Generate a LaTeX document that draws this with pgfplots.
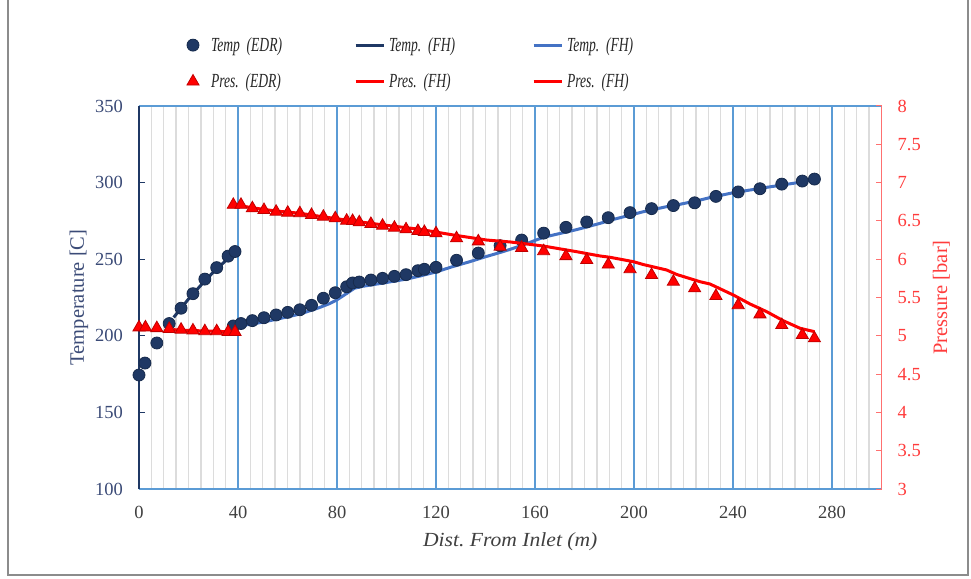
\documentclass[border=0pt]{standalone}
\usepackage{fontspec}
\setmainfont{Liberation Serif}
\newfontfamily\legendfont[FakeStretch=0.68]{Liberation Serif}
\newfontfamily\widefont[FakeStretch=1.08]{Liberation Serif}
\usepackage{pgfplots}
\pgfplotsset{compat=1.18}

\definecolor{tempnavy}{HTML}{1F3864}
\definecolor{tempedge}{HTML}{172B4D}
\definecolor{templight}{HTML}{4472C4}
\definecolor{presred}{HTML}{FF0000}
\definecolor{presedge}{HTML}{C00000}
\definecolor{gridblue}{HTML}{5B9BD5}
\definecolor{gridgray}{HTML}{DCDCDC}
\definecolor{labnavy}{HTML}{3B4B77}
\definecolor{labred}{HTML}{FF3C3C}
\definecolor{axred}{HTML}{FF7070}
\definecolor{txtgray}{HTML}{404040}
\definecolor{framegray}{HTML}{8C8C8C}

\pgfplotsset{
  longline legend/.style={legend image code/.code={\draw[##1] (0pt,0pt) -- (28pt,0pt);}},
  mark legend/.style={legend image code/.code={%
      \path[draw=none, fill=none] (0pt,0pt) -- (28pt,0pt);
      \path[##1, draw=none] plot coordinates {(14pt,0pt)};}},
}

\begin{document}
\frenchspacing
\begin{tikzpicture}[x=1pt,y=1pt]
\useasboundingbox (-139,-89) rectangle (832,489);
\draw[framegray, line width=1.5pt] (-131,489) -- (-131,-86) -- (829,-86) -- (829,489);

% temperature axis (left)
\begin{axis}[
  at={(0,0)}, anchor=south west, scale only axis,
  width=742.5pt, height=383pt,
  xmin=0, xmax=300, ymin=100, ymax=350,
  separate axis lines,
  axis x line*=box, axis y line*=left,
  x axis line style={gridblue, line width=1.2pt, -},
  y axis line style={tempnavy, line width=1.2pt, -},
  xtick={0,40,...,280}, minor xtick={5,10,...,295},
  ytick={100,150,...,350},
  xmajorgrids, xminorgrids,
  major grid style={gridblue, line width=1.1pt},
  minor grid style={gridgray, line width=1.3pt},
  tick align=inside, major tick length=6pt,
  major x tick style={draw=none}, minor x tick style={draw=none},
  ytick style={tempnavy, line width=1pt},
  /pgf/number format/assume math mode=true,
  xticklabel style={txtgray, font=\fontsize{18.5}{20}\selectfont, inner sep=0pt, yshift=-17pt},
  yticklabel style={labnavy, font=\fontsize{18.5}{20}\selectfont, inner sep=0pt, xshift=-16pt},
  xlabel={\widefont\itshape\frenchspacing Dist. From Inlet (m)},
  xlabel style={txtgray, font=\fontsize{20}{22}\selectfont, at={(axis description cs:0.5,-0.138)}, anchor=center},
  ylabel={Temperature [C]},
  ylabel style={labnavy, font=\fontsize{20.5}{22}\selectfont, at={(axis description cs:-0.0808,0.5)}, anchor=center},
]
% FH model, first pass
\addplot[tempnavy, line width=3pt, forget plot] coordinates {
  (14,212) (20,224) (25,233) (30,241.5) (35,249) (39,255)};
% FH model, second pass
\addplot[templight, line width=3pt, forget plot] coordinates {
  (40,206.5) (46,207.7) (55.6,210.8) (65,214.2) (73,218.5) (77,221) (80,223.5)
  (84,227.7) (87,231) (90,232.2) (100,234.8) (108,237) (113.5,239) (120.3,241.8)
  (126,244.8) (133.7,248.4) (140,251.6) (147.2,255) (154,258.6) (163.4,264.3)
  (176.8,269.3) (186.3,273.4) (190.3,275.4) (199.7,279.3) (203.8,281) (213.2,284.3)
  (217.3,285.4) (226.7,288.6) (230.7,290.2) (240.1,293.4) (253.6,296.9)
  (267.1,300.2) (272.9,302.2)};
% EDR temperatures
\addplot[only marks, mark=*, mark size=6pt, mark options={fill=tempnavy, draw=tempedge, line width=0.8pt}, forget plot] coordinates {
  (0,174.4) (2.4,182.2) (7.2,195.3) (12.2,208) (17,218) (21.8,227.5) (26.6,237)
  (31.4,244.5) (36,252) (38.8,255)
  (38.1,206.4) (41.2,208) (45.8,209.9) (50.5,211.8) (55.4,213.6) (60.1,215.3)
  (65,217) (69.7,219.9) (74.5,224.5) (79.3,228.1) (83.9,232) (86.3,234.5)
  (89,235.1) (93.7,236.4) (98.4,237.5) (103.2,238.8) (107.9,239.9) (112.7,242.5)
  (115.3,243.4) (120,244.7) (128.3,249.3) (137.1,254) (145.9,258.8) (154.6,262.5)
  (163.5,267) (172.5,270.8) (180.9,274.3) (189.6,277.1) (198.4,280.4) (207.1,283)
  (215.9,285) (224.5,286.8) (233.1,291) (242.1,293.9) (250.9,296) (259.7,299)
  (268,301) (272.9,302.3)};
\end{axis}

% pressure axis (right)
\begin{axis}[
  at={(0,0)}, anchor=south west, scale only axis,
  width=742.5pt, height=383pt,
  xmin=0, xmax=300, ymin=3, ymax=8,
  axis x line=none, axis y line*=right,
  y axis line style={axred, line width=1.2pt, -},
  ytick={3,3.5,...,8},
  tick align=inside, major tick length=6pt,
  ytick style={axred, line width=1pt},
  /pgf/number format/assume math mode=true,
  yticklabel style={labred, font=\fontsize{18.5}{20}\selectfont, inner sep=0pt, anchor=west, xshift=16pt},
  ylabel={Pressure [bar]},
  ylabel style={labred, font=\fontsize{20.5}{22}\selectfont, at={(axis description cs:1.0808,0.5)}, anchor=center},
  legend columns=3,
  legend cell align=left,
  legend style={draw=none, fill=none, inner sep=0pt, outer sep=0pt,
    at={(axis description cs:0.0539,1.1790)}, anchor=north west,
    font=\fontsize{20}{22}\selectfont\legendfont\itshape\frenchspacing,
    text=black!85, row sep=21pt,
    nodes={inner sep=0pt},
    /tikz/every odd column/.append style={column sep=4pt},
    /tikz/every even column/.append style={column sep=23pt, text width=120pt, align=left}},
]
\addlegendimage{only marks, mark=*, mark size=6pt, mark options={fill=tempnavy, draw=tempedge, line width=0.8pt}, mark legend}
\addlegendentry{Temp (EDR)}
\addlegendimage{tempnavy, line width=3pt, longline legend}
\addlegendentry{Temp. (FH)}
\addlegendimage{templight, line width=3pt, longline legend}
\addlegendentry{Temp. (FH)}
\addlegendimage{only marks, mark=triangle*, mark size=7pt, mark options={fill=presred, draw=presedge, line width=0.8pt}, mark legend}
\addlegendentry{Pres. (EDR)}
\addlegendimage{presred, line width=3pt, longline legend}
\addlegendentry{Pres. (FH)}
\addlegendimage{presred, line width=3pt, longline legend}
\addlegendentry{Pres. (FH)}

% FH model pressures
\addplot[presred, line width=3pt, forget plot] coordinates {
  (14,5.08) (20,5.07) (30,5.06) (39,5.05)};
\addplot[presred, line width=3pt, forget plot] coordinates {
  (39,6.71) (45,6.675) (55,6.63) (65,6.60) (72,6.565) (85.5,6.503) (99,6.446)
  (113.5,6.39) (127,6.316) (140.5,6.25) (150,6.225) (163.4,6.172) (176.8,6.098)
  (186.3,6.042) (190.3,6.025) (199.7,5.968) (203.8,5.93) (213.2,5.859)
  (217.3,5.80) (226.7,5.706) (230.7,5.676) (240.1,5.533) (246.9,5.415)
  (253.6,5.315) (260.3,5.197) (267.1,5.098) (272.9,5.054)};
% EDR pressures
\addplot[only marks, mark=triangle*, mark size=7pt, mark options={fill=presred, draw=presedge, line width=0.8pt}, forget plot] coordinates {
  (0,5.11) (2.6,5.11) (7.2,5.10) (12.2,5.09) (17,5.08) (21.8,5.07) (26.6,5.06)
  (31.4,5.06) (36,5.05) (38.8,5.05)
  (38.1,6.71) (41.2,6.71) (45.8,6.665) (50.5,6.642) (55.4,6.62) (60.1,6.607)
  (65,6.6) (69.7,6.577) (74.5,6.555) (79.3,6.534) (83.9,6.503) (86.3,6.499)
  (89,6.482) (93.7,6.46) (98.4,6.437) (103.2,6.411) (107.9,6.39) (112.7,6.368)
  (115.3,6.355) (120,6.338) (128.3,6.273) (137.1,6.233) (145.9,6.163)
  (154.6,6.148) (163.5,6.105) (172.5,6.04) (180.9,5.99) (189.6,5.93)
  (198.4,5.87) (207.1,5.794) (215.9,5.706) (224.5,5.62) (233.1,5.52)
  (242.1,5.40) (250.9,5.28) (259.7,5.14) (268,5.01) (272.9,4.967)};
\end{axis}
\end{tikzpicture}
\end{document}
